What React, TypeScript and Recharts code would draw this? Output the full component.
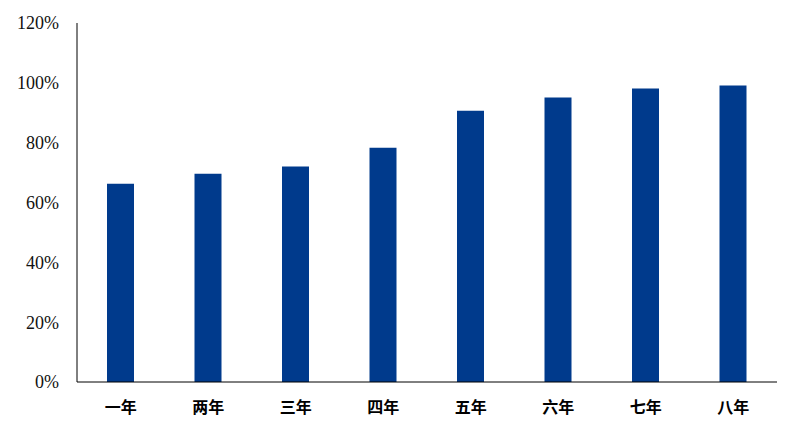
import { BarChart, Bar, XAxis, YAxis } from 'recharts';

const categories = ['一年', '两年', '三年', '四年', '五年', '六年', '七年', '八年'];
const ratios = [0.663, 0.696, 0.72, 0.783, 0.907, 0.951, 0.981, 0.991];
const yTicks = [0, 0.2, 0.4, 0.6, 0.8, 1.0, 1.2];

const chartData = categories.map((name, i) => ({ name, value: ratios[i] }));

const fontFamily = '"Liberation Serif", "Times New Roman", "Noto Sans CJK SC", serif';

const formatPercent = (value: number) => `${Math.round(value * 100)}%`;

export default function App() {
  return (
    <div style={{ position: 'absolute', left: 0, top: 0, width: 797, height: 434, background: '#fff' }}>
      <BarChart
        width={798}
        height={434}
        data={chartData}
        margin={{ top: 23, right: 21, left: 1, bottom: 0 }}
        barCategoryGap={0}
      >
        <XAxis
          dataKey="name"
          height={52}
          stroke="#000"
          tickLine={false}
          tickSize={0}
          tickMargin={20}
          tick={{ fill: '#000', fontSize: 16, fontWeight: 'bold', fontFamily }}
        />
        <YAxis
          width={76}
          domain={[0, 1.2]}
          ticks={yTicks}
          stroke="#000"
          tickLine={false}
          tickSize={0}
          tickMargin={18}
          tickFormatter={formatPercent}
          tick={{ fill: '#111', fontSize: 18, fontFamily }}
        />
        <Bar dataKey="value" fill="#003A8C" barSize={27} isAnimationActive={false} />
      </BarChart>
    </div>
  );
}
